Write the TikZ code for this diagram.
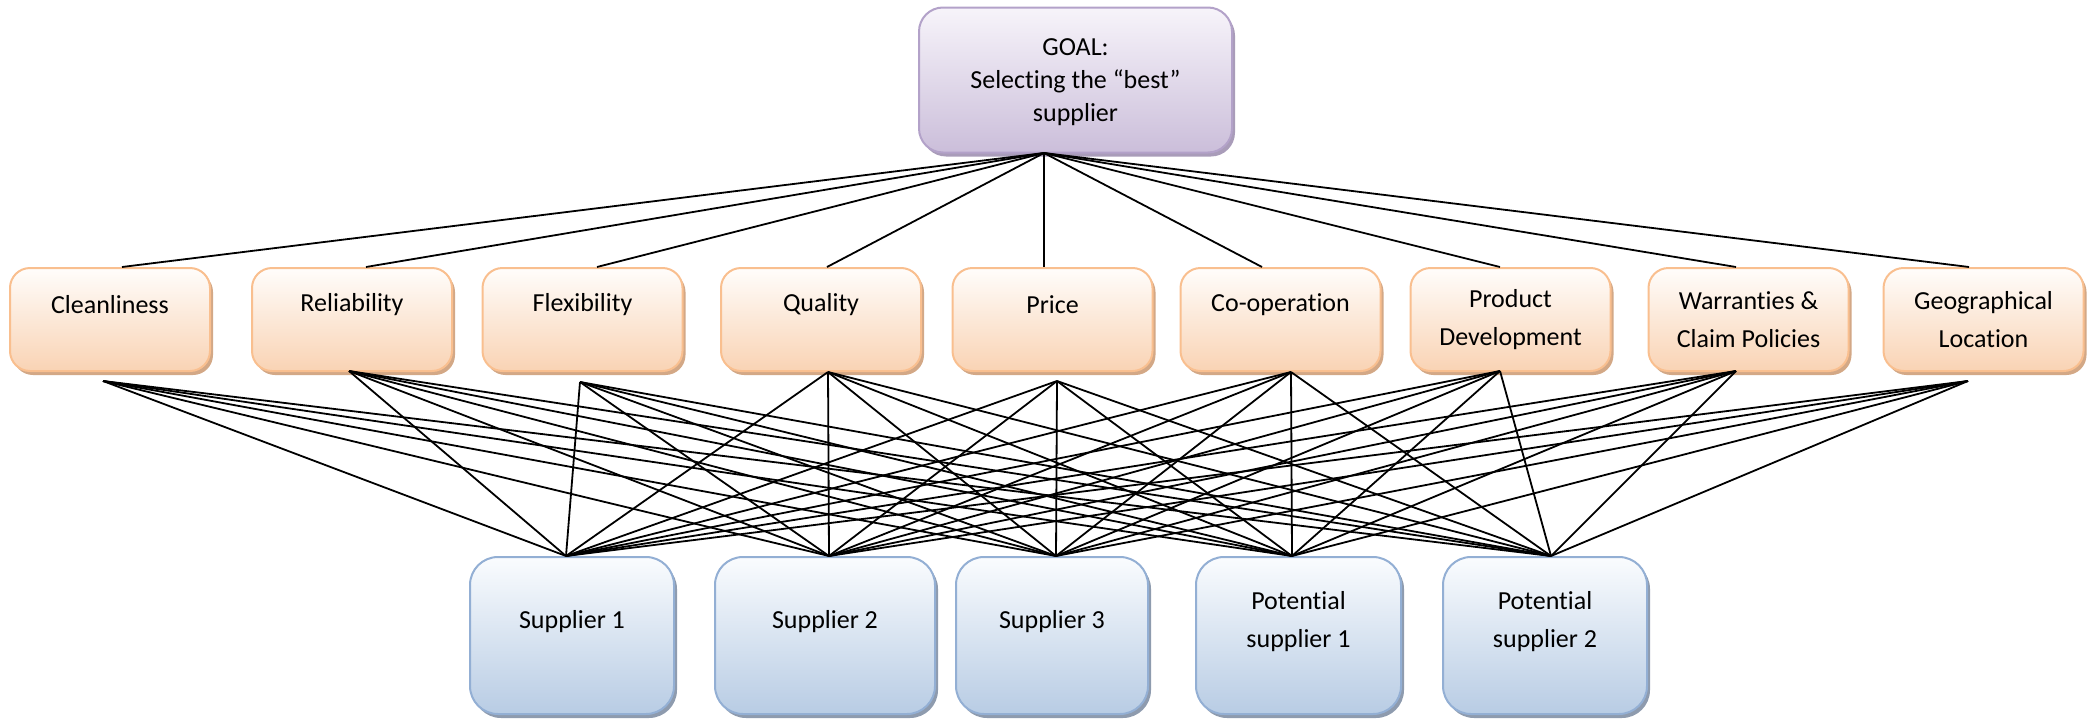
\documentclass[tikz,border=0pt]{standalone}
\usepackage{fontspec}
\setmainfont{Carlito}[Ligatures=NoCommon]
\usetikzlibrary{shadows}

% box palettes: outline, gradient top, gradient bottom, offset shadow
\definecolor{goalline}{HTML}{B3A2C9}
\definecolor{goaltop}{HTML}{F7F4FA}
\definecolor{goalbot}{HTML}{CBBEDA}
\definecolor{goalshade}{HTML}{A99CB9}
\definecolor{critline}{HTML}{F9BF8F}
\definecolor{crittop}{HTML}{FFFDFB}
\definecolor{critbot}{HTML}{F9D3B4}
\definecolor{critshade}{HTML}{D3A886}
\definecolor{altline}{HTML}{93AFD4}
\definecolor{alttop}{HTML}{FAFCFE}
\definecolor{altbot}{HTML}{B8CCE4}
\definecolor{altshade}{HTML}{8E9BAE}

\begin{document}
\begin{tikzpicture}[x=1pt,y=-1pt,
  every node/.style={font=\fontsize{26}{38}\selectfont},
  boxbase/.style={draw, line width=2pt, inner sep=0pt, shape=rectangle},
  goalbox/.style={boxbase, rounded corners=24pt, draw=goalline,
    top color=goaltop, bottom color=goalbot,
    minimum width=313pt, minimum height=145pt,
    general shadow={fill=goalshade, shadow xshift=3pt, shadow yshift=-4pt}},
  critbox/.style={boxbase, rounded corners=20pt, draw=critline,
    top color=crittop, bottom color=critbot,
    minimum width=200pt, minimum height=103pt,
    general shadow={fill=critshade, shadow xshift=3pt, shadow yshift=-4pt}},
  altbox/.style={boxbase, rounded corners=28pt, draw=altline,
    top color=alttop, bottom color=altbot,
    minimum height=157pt,
    general shadow={fill=altshade, shadow xshift=3pt, shadow yshift=-4pt}},
  boxtext/.style={align=center, inner sep=0pt, text=black},
  goaltext/.style={boxtext, font=\fontsize{26}{33}\selectfont},
  link/.style={line width=1.8pt, black}
]
\useasboundingbox (0,0) rectangle (2092,720);

% ---- goal ----
\node[goalbox] (goal) at (1075.5,80) {};
\node[goaltext] (goal-label) at (1075.5,82) {GOAL:\\Selecting the “best”\\supplier};
\coordinate (goal-out) at (1044,153);

% ---- criteria ----
\node[critbox] (clean) at (110,319.5) {};
\node[critbox] (relia) at (352,319.5) {};
\node[critbox] (flexi) at (582.5,319.5) {};
\node[critbox] (quali) at (821,319.5) {};
\node[critbox] (price) at (1052.5,319.5) {};
\node[critbox] (coop)  at (1280.5,319.5) {};
\node[critbox] (prod)  at (1510.5,319.5) {};
\node[critbox] (warr)  at (1748.5,319.5) {};
\node[critbox] (geo)   at (1983.5,319.5) {};

\node[boxtext] (clean-label) at (110,305) {Cleanliness};
\node[boxtext] (relia-label) at (352,305) {Reliability};
\node[boxtext] (flexi-label) at (582.5,305) {Flexibility};
\node[boxtext] (quali-label) at (821,305) {Quality};
\node[boxtext] (price-label) at (1052.5,305) {Price};
\node[boxtext] (coop-label)  at (1280.5,305) {Co-operation};
\node[boxtext] (prod-label)  at (1510.5,320) {Product\\Development};
\node[boxtext] (warr-label)  at (1748.5,320) {Warranties \&\\Claim Policies};
\node[boxtext] (geo-label)   at (1983.5,320) {Geographical\\Location};

% where the links meet each criterion, top and bottom
\coordinate (clean-in) at (122,267);  \coordinate (clean-out) at (103,381);
\coordinate (relia-in) at (366,267);  \coordinate (relia-out) at (349,371);
\coordinate (flexi-in) at (597,267);  \coordinate (flexi-out) at (580,382);
\coordinate (quali-in) at (827,267);  \coordinate (quali-out) at (828,372);
\coordinate (price-in) at (1044,267); \coordinate (price-out) at (1057,381);
\coordinate (coop-in)  at (1262,267); \coordinate (coop-out)  at (1291,372);
\coordinate (prod-in)  at (1500,267); \coordinate (prod-out)  at (1500,371);
\coordinate (warr-in)  at (1736,267); \coordinate (warr-out)  at (1736,371);
\coordinate (geo-in)   at (1969,267); \coordinate (geo-out)   at (1968,381);

% ---- alternatives ----
\node[altbox, minimum width=204pt] (sup1) at (572,635.5) {};
\node[altbox, minimum width=220pt] (sup2) at (825,635.5) {};
\node[altbox, minimum width=192pt] (sup3) at (1052,635.5) {};
\node[altbox, minimum width=205pt] (pot1) at (1298.5,635.5) {};
\node[altbox, minimum width=204pt] (pot2) at (1545,635.5) {};

\node[boxtext] (sup1-label) at (572,622) {Supplier 1};
\node[boxtext] (sup2-label) at (825,622) {Supplier 2};
\node[boxtext] (sup3-label) at (1052,622) {Supplier 3};
\node[boxtext] (pot1-label) at (1298.5,622) {Potential\\supplier 1};
\node[boxtext] (pot2-label) at (1545,622) {Potential\\supplier 2};

\coordinate (sup1-in) at (566,556);
\coordinate (sup2-in) at (829,556);
\coordinate (sup3-in) at (1056,556);
\coordinate (pot1-in) at (1292,556);
\coordinate (pot2-in) at (1551,556);

% ---- links ----
\foreach \c in {clean,relia,flexi,quali,price,coop,prod,warr,geo}{
  \draw[link] (goal-out) -- (\c-in);
  \foreach \s in {sup1,sup2,sup3,pot1,pot2}
    \draw[link] (\c-out) -- (\s-in);
}
\end{tikzpicture}
\end{document}
